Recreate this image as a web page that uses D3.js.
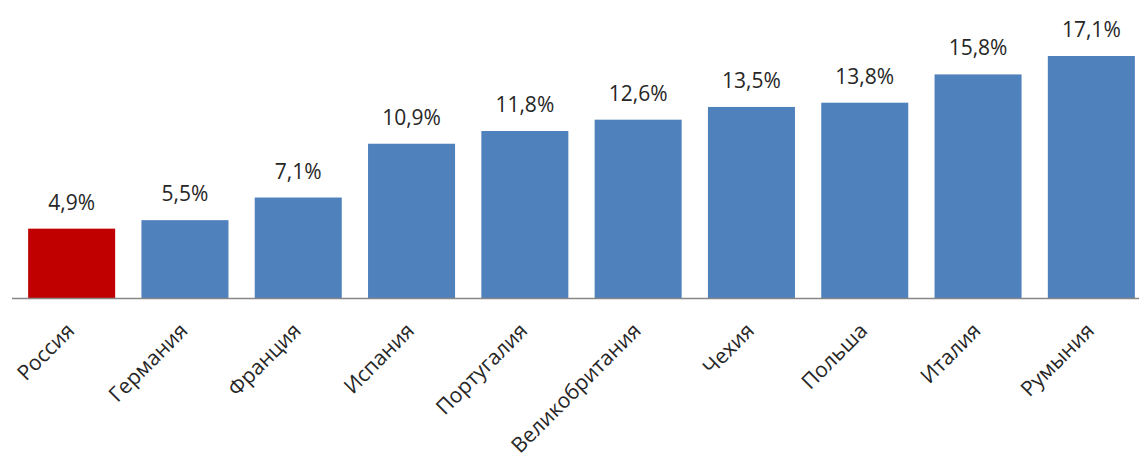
<!DOCTYPE html>
<html>
<head>
<meta charset="utf-8">
<script src="https://cdn.jsdelivr.net/npm/d3@7"></script>
<style>
  body { margin: 0; background: #fff; }
  text { font-family: "Open Sans", sans-serif; fill: #262626; }
</style>
</head>
<body>
<svg id="chart" width="1139" height="459"></svg>
<script>
// Share by country, percent
var countries = ["Россия", "Германия", "Франция", "Испания", "Португалия",
                 "Великобритания", "Чехия", "Польша", "Италия", "Румыния"]
  , values = [4.9, 5.5, 7.1, 10.9, 11.8, 12.6, 13.5, 13.8, 15.8, 17.1]
  , highlight = "Россия"
  ;

var svg = d3.select("#chart")
  , baseY = 298
  ;

var x = d3.scaleBand()
          .domain(countries)
          .range([15, 1148])
          .paddingInner(0.232)
          .paddingOuter(0.116);

var y = d3.scaleLinear()
          .domain([0, 17.1])
          .range([baseY, 56]);

var fmt = function (v) { return d3.format(".1f")(v).replace(".", ",") + "%"; };

// Bars
svg.selectAll("rect.bar")
   .data(countries)
   .enter().append("rect")
   .attr("class", "bar")
   .attr("x", function (d) { return x(d); })
   .attr("y", function (d, i) { return y(values[i]); })
   .attr("width", x.bandwidth())
   .attr("height", function (d, i) { return baseY - y(values[i]); })
   .attr("fill", function (d) { return d === highlight ? "#c00000" : "#4f81bd"; });

// Value labels
svg.selectAll("text.value")
   .data(countries)
   .enter().append("text")
   .attr("class", "value")
   .attr("x", function (d) { return x(d) + x.bandwidth() / 2; })
   .attr("y", function (d, i) { return y(values[i]) - 19; })
   .attr("text-anchor", "middle")
   .style("font-size", "21px")
   .text(function (d, i) { return fmt(values[i]); });

// Axis line
svg.append("line")
   .attr("x1", 12).attr("x2", 1139)
   .attr("y1", baseY + 0.5).attr("y2", baseY + 0.5)
   .attr("stroke", "#868686")
   .attr("stroke-width", 1.5);

// Category labels, rotated
svg.selectAll("text.cat")
   .data(countries)
   .enter().append("text")
   .attr("class", "cat")
   .attr("text-anchor", "end")
   .attr("transform", function (d) {
     return "translate(" + (x(d) + x.bandwidth() / 2 + 4) + "," + (baseY + 34) + ") rotate(-45)";
   })
   .style("font-size", "21px")
   .text(function (d) { return d; });
</script>
</body>
</html>
